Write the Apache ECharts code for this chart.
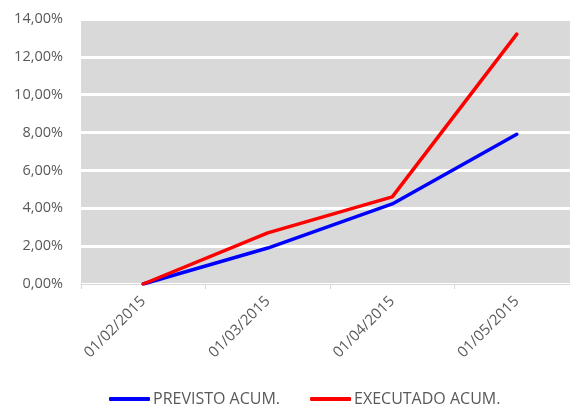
<!DOCTYPE html>
<html>
<head>
<meta charset="utf-8">
<script src="https://cdn.jsdelivr.net/npm/echarts@6/dist/echarts.min.js"></script>
<style>
  html, body { margin: 0; padding: 0; background: #fff; }
  #chart { width: 570px; height: 409px; }
</style>
</head>
<body>
<div id="chart"></div>
<script>
const categories = ['01/02/2015', '01/03/2015', '01/04/2015', '01/05/2015']
const previsto = [0, 1.9, 4.23, 7.91]
const executado = [0, 2.7, 4.6, 13.2]
const seriesNames = ['PREVISTO ACUM.', 'EXECUTADO ACUM.']

const fontFamily = 'Open Sans'
const chart = echarts.init(document.getElementById('chart'))

const fmt = v => v.toFixed(2).replace('.', ',') + '%'

chart.setOption({
  animation: false,
  textStyle: { fontFamily },
  // plot area runs a bit past the right edge of the picture
  grid: { left: 81, width: 498, top: 19, height: 265, containLabel: false, outerBoundsMode: 'none' },
  xAxis: {
    type: 'category',
    data: categories,
    boundaryGap: true,
    axisLine: { show: true, lineStyle: { color: '#d9d9d9', width: 1 } },
    axisTick: { show: true, length: 5, lineStyle: { color: '#d9d9d9' } },
    axisLabel: { rotate: 45, margin: 15, color: '#595959', fontSize: 15, fontFamily },
    splitLine: { show: false }
  },
  yAxis: {
    type: 'value',
    min: 0,
    max: 14,
    interval: 2,
    axisLine: { show: false },
    axisTick: { show: false },
    axisLabel: { margin: 18, color: '#595959', fontSize: 14.5, fontFamily, formatter: fmt },
    splitLine: { show: true, lineStyle: { color: '#ffffff', width: 3 } },
    splitArea: { show: true, areaStyle: { color: ['#d9d9d9', '#d9d9d9'] } }
  },
  legend: {
    bottom: -3,
    left: 104,
    itemWidth: 41,
    itemHeight: 4,
    itemGap: 30,
    icon: 'roundRect',
    textStyle: { color: '#595959', fontSize: 16, fontFamily, padding: [0, 0, 0, -2] },
    data: seriesNames
  },
  series: [
    {
      name: seriesNames[0],
      type: 'line',
      data: previsto,
      showSymbol: false,
      symbol: 'none',
      lineStyle: { color: '#0000ff', width: 3.5, cap: 'round' },
      itemStyle: { color: '#0000ff' }
    },
    {
      name: seriesNames[1],
      type: 'line',
      data: executado,
      showSymbol: false,
      symbol: 'none',
      lineStyle: { color: '#ff0000', width: 3.5, cap: 'round' },
      itemStyle: { color: '#ff0000' }
    }
  ]
})
</script>
</body>
</html>
